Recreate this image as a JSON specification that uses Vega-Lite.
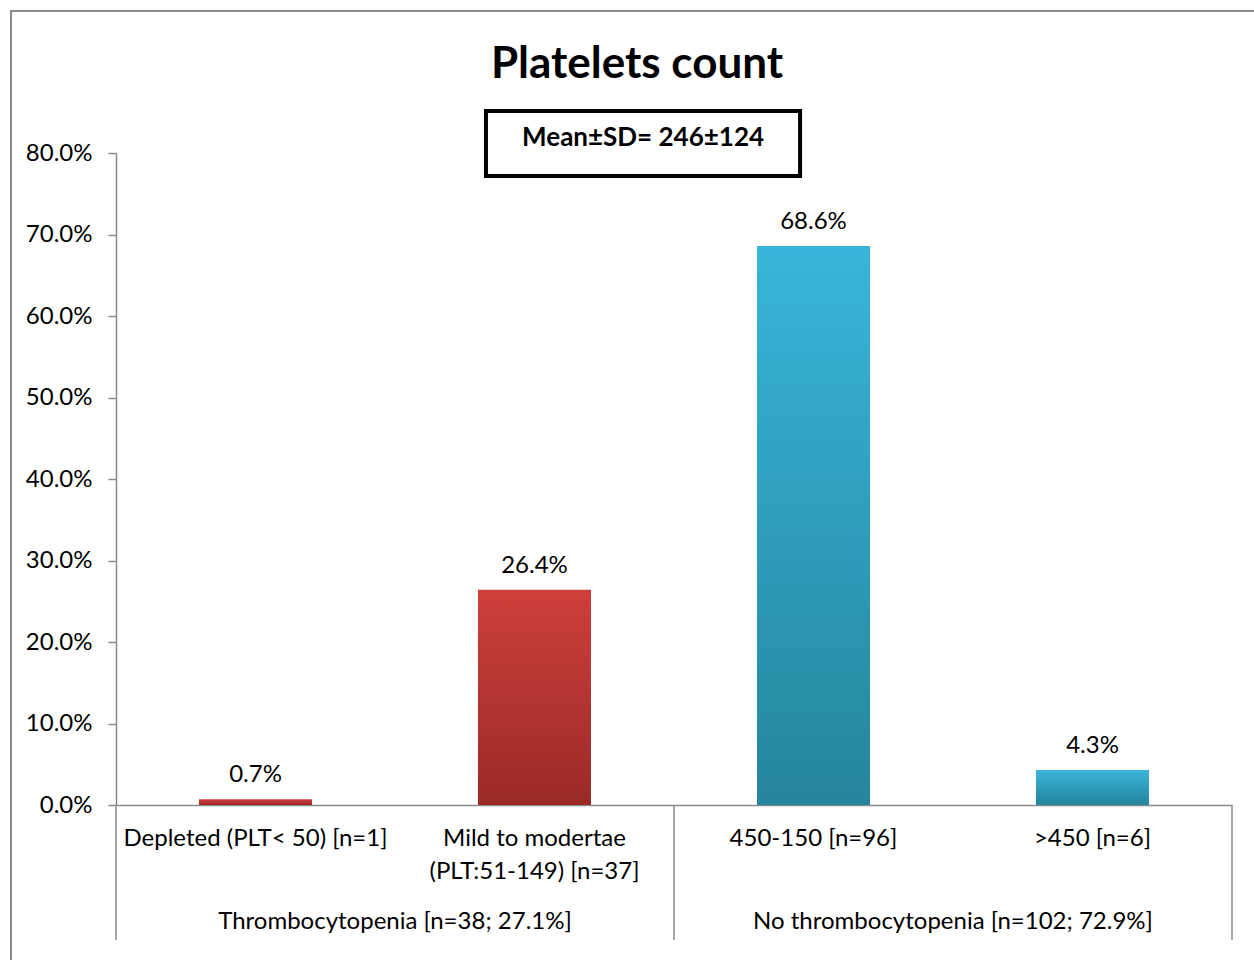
{
  "$schema": "https://vega.github.io/schema/vega-lite/v6.json",
  "autosize": "none",
  "width": 1246,
  "height": 952,
  "padding": {"left": 11, "top": 11, "right": -3, "bottom": -3},
  "background": "white",
  "config": {
    "view": {"stroke": "#8a8a8a", "strokeWidth": 2},
    "font": "Lato",
    "text": {"font": "Lato"}
  },
  "title": {
    "text": "Platelets count",
    "font": "Lato",
    "fontSize": 44,
    "fontWeight": "bold",
    "color": "black",
    "anchor": "middle",
    "frame": "group",
    "baseline": "alphabetic",
    "offset": -111,
    "dx": 3
  },
  "datasets": {
    "bars": [
      {"category": "Depleted (PLT< 50) [n=1]", "group": "Thrombocytopenia [n=38; 27.1%]", "value": 0.007},
      {"category": "Mild to modertae (PLT:51-149) [n=37]", "group": "Thrombocytopenia [n=38; 27.1%]", "value": 0.264},
      {"category": "450-150 [n=96]", "group": "No thrombocytopenia [n=102; 72.9%]", "value": 0.686},
      {"category": ">450 [n=6]", "group": "No thrombocytopenia [n=102; 72.9%]", "value": 0.043}
    ],
    "stats": [
      {"label": "Mean±SD= 246±124"}
    ]
  },
  "layer": [
    {
      "data": {"name": "bars"},
      "encoding": {
        "x": {
          "field": "category",
          "type": "nominal",
          "sort": null,
          "scale": {
            "domain": ["Depleted (PLT< 50) [n=1]", "Mild to modertae (PLT:51-149) [n=37]", "450-150 [n=96]", ">450 [n=6]"],
            "range": [105, 1221],
            "paddingInner": 0,
            "paddingOuter": 0
          },
          "axis": {
            "orient": "bottom",
            "offset": -158,
            "title": null,
            "ticks": false,
            "domainColor": "#8a8a8a",
            "domainWidth": 1.5,
            "labelAngle": 0,
            "labelFont": "Lato",
            "labelFontSize": 24,
            "labelColor": "black",
            "labelPadding": 21,
            "labelLimit": 500,
            "labelLineHeight": 33,
            "labelExpr": "split(replace(datum.label, 'modertae (', 'modertae|('), '|')"
          }
        },
        "y": {
          "field": "value",
          "type": "quantitative",
          "scale": {"domain": [0, 0.8], "range": [794, 142], "nice": false, "zero": true},
          "axis": {
            "orient": "left",
            "offset": -105,
            "title": null,
            "values": [0, 0.1, 0.2, 0.3, 0.4, 0.5, 0.6, 0.7, 0.8],
            "format": ".1%",
            "grid": false,
            "tickSize": 8,
            "tickColor": "#8a8a8a",
            "tickWidth": 1.5,
            "domainColor": "#8a8a8a",
            "domainWidth": 1.5,
            "labelFont": "Lato",
            "labelFontSize": 24,
            "labelColor": "black",
            "labelPadding": 16
          }
        }
      },
      "layer": [
        {
          "mark": {"type": "bar", "width": {"band": 0.405}},
          "encoding": {
            "color": {
              "condition": {
                "test": "datum.group == 'Thrombocytopenia [n=38; 27.1%]'",
                "value": {"gradient": "linear", "x1": 0, "y1": 0, "x2": 0, "y2": 1, "stops": [{"offset": 0, "color": "#ce3f3b"}, {"offset": 1, "color": "#9a2a28"}]}
              },
              "value": {"gradient": "linear", "x1": 0, "y1": 0, "x2": 0, "y2": 1, "stops": [{"offset": 0, "color": "#38b5da"}, {"offset": 1, "color": "#25859c"}]}
            }
          }
        },
        {
          "mark": {"type": "text", "baseline": "alphabetic", "dy": -17, "fontSize": 24, "font": "Lato", "color": "black"},
          "encoding": {
            "text": {"field": "value", "type": "quantitative", "format": ".1%"}
          }
        }
      ]
    },
    {
      "data": {"name": "bars"},
      "transform": [
        {"aggregate": [{"op": "count", "as": "n"}], "groupby": ["group"]}
      ],
      "encoding": {
        "x": {
          "field": "group",
          "type": "nominal",
          "sort": null,
          "scale": {
            "domain": ["Thrombocytopenia [n=38; 27.1%]", "No thrombocytopenia [n=102; 72.9%]"],
            "range": [105, 1221],
            "paddingInner": 0,
            "paddingOuter": 0
          },
          "axis": null
        }
      },
      "layer": [
        {
          "mark": {"type": "rule", "color": "#8a8a8a", "strokeWidth": 1.5},
          "encoding": {
            "x": {"field": "group", "type": "nominal", "bandPosition": 0},
            "y": {"datum": 0},
            "y2": {"datum": -0.1656}
          }
        },
        {
          "transform": [{"filter": "datum.group == 'No thrombocytopenia [n=102; 72.9%]'"}],
          "mark": {"type": "rule", "color": "#8a8a8a", "strokeWidth": 1.5},
          "encoding": {
            "x": {"field": "group", "type": "nominal", "bandPosition": 1},
            "y": {"datum": 0},
            "y2": {"datum": -0.1656}
          }
        },
        {
          "mark": {"type": "text", "baseline": "middle", "fontSize": 24, "font": "Lato", "color": "black"},
          "encoding": {
            "x": {"field": "group", "type": "nominal", "bandPosition": 0.5},
            "y": {"datum": -0.1436},
            "text": {"field": "group", "type": "nominal"}
          }
        }
      ]
    },
    {
      "data": {"name": "stats"},
      "layer": [
        {
          "mark": {"type": "rect", "fill": "white", "stroke": "black", "strokeWidth": 4},
          "encoding": {
            "x": {"datum": 0.3821, "type": "quantitative", "scale": {"domain": [0, 1], "range": [0, 1243]}, "axis": null},
            "x2": {"datum": 0.6348},
            "y": {"datum": 0.8515},
            "y2": {"datum": 0.7718}
          }
        },
        {
          "mark": {"type": "text", "baseline": "middle", "fontSize": 26, "fontWeight": "bold", "font": "Lato", "color": "black"},
          "encoding": {
            "x": {"datum": 0.5085, "type": "quantitative", "scale": {"domain": [0, 1], "range": [0, 1243]}, "axis": null},
            "y": {"datum": 0.8184},
            "text": {"field": "label", "type": "nominal"}
          }
        }
      ]
    }
  ],
  "resolve": {"scale": {"x": "independent"}, "axis": {"x": "independent"}}
}
